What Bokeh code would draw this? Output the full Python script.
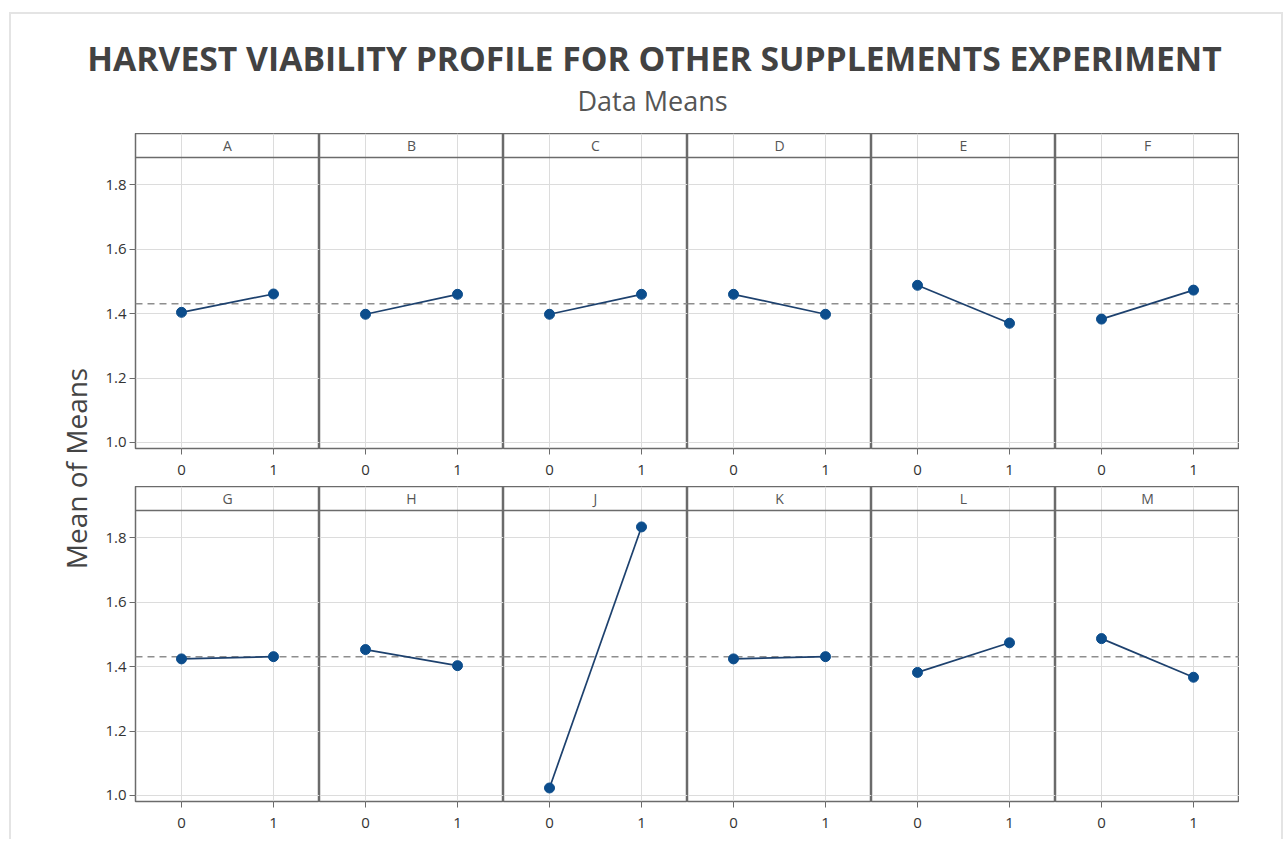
import math
from bokeh.plotting import figure
from bokeh.models import Range1d, Span, Label, FixedTicker, PrintfTickFormatter
from bokeh.layouts import row, column
from bokeh.embed import file_html
from bokeh.resources import INLINE

# ---- data ----
factors = ["A", "B", "C", "D", "E", "F", "G", "H", "J", "K", "L", "M"]
levels = [0, 1]
means_level0 = [1.404, 1.398, 1.398, 1.460, 1.488, 1.383, 1.424, 1.453, 1.023, 1.424, 1.382, 1.487]
means_level1 = [1.461, 1.460, 1.460, 1.398, 1.370, 1.473, 1.431, 1.403, 1.834, 1.431, 1.474, 1.367]
grand_mean = 1.431
y_ticks = [1.0, 1.2, 1.4, 1.6, 1.8]

title_text = "HARVEST VIABILITY PROFILE FOR OTHER SUPPLEMENTS EXPERIMENT"
subtitle_text = "Data Means"
ylabel_text = "Mean of Means"

# ---- styling / layout ----
FONT = "Open Sans"
FRAME_W = 184
FRAME_H = 315
HEADER_PX = 24
BOTTOM_PX = 38
Y0 = 0.981
DATA_TOP = 1.885
PX_PER_UNIT = (FRAME_H - HEADER_PX) / (DATA_TOP - Y0)
Y1 = Y0 + FRAME_H / PX_PER_UNIT
BORDER_COL = "#6b6b6b"
GRID_COL = "#dcdcdc"
POINT_COL = "#0c4d8c"
LINE_COL = "#1d416e"


def panel(idx, first):
    p = figure(frame_width=FRAME_W, frame_height=FRAME_H,
               x_range=Range1d(-0.5, 1.5), y_range=Range1d(Y0, Y1),
               output_backend="svg", toolbar_location=None,
               min_border_left=35 if first else 0, min_border_right=0,
               min_border_top=0, min_border_bottom=BOTTOM_PX,
               y_axis_location="left" if first else None)
    p.outline_line_color = BORDER_COL
    p.outline_line_width = 1.5
    p.background_fill_color = "white"
    p.border_fill_color = "white"

    p.xgrid.ticker = FixedTicker(ticks=levels)
    p.ygrid.ticker = FixedTicker(ticks=y_ticks)
    p.xgrid.bounds = (Y0, DATA_TOP)
    p.xgrid.grid_line_color = GRID_COL
    p.ygrid.grid_line_color = GRID_COL
    p.xgrid.grid_line_width = 1
    p.ygrid.grid_line_width = 1

    xa = p.xaxis[0]
    xa.ticker = FixedTicker(ticks=levels)
    xa.axis_line_color = None
    xa.major_tick_line_color = BORDER_COL
    xa.major_tick_out = 6
    xa.major_tick_in = 0
    xa.minor_tick_line_color = None
    xa.major_label_text_font = FONT
    xa.major_label_text_font_size = "15px"
    xa.major_label_text_color = "#333333"
    xa.major_label_standoff = 10

    if first:
        ya = p.yaxis[0]
        ya.ticker = FixedTicker(ticks=y_ticks)
        ya.formatter = PrintfTickFormatter(format="%.1f")
        ya.axis_line_color = None
        ya.major_tick_line_color = BORDER_COL
        ya.major_tick_out = 6
        ya.major_tick_in = 0
        ya.minor_tick_line_color = None
        ya.major_label_text_font = FONT
        ya.major_label_text_font_size = "15px"
        ya.major_label_text_color = "#333333"
        ya.major_label_standoff = 3

    # grand mean reference line
    p.add_layout(Span(location=grand_mean, dimension="width", line_color="#8e8e8e",
                      line_dash="7 5", line_width=1.5, level="underlay"))

    # data
    ys = [means_level0[idx], means_level1[idx]]
    p.line(x=levels, y=ys, line_color=LINE_COL, line_width=1.7)
    p.scatter(x=levels, y=ys, size=10, fill_color=POINT_COL, line_color=POINT_COL)

    # header strip
    p.add_layout(Span(location=DATA_TOP, dimension="width", line_color=BORDER_COL,
                      line_width=1.5))
    p.add_layout(Label(x=0.5, y=(DATA_TOP + Y1) / 2, text=factors[idx],
                       text_align="center", text_baseline="middle",
                       text_font=FONT, text_font_size="14px", text_color="#555555"))
    return p


rows = []
for r in range(2):
    figs = [panel(r * 6 + c, c == 0) for c in range(6)]
    rows.append(row(*figs, spacing=0))

grid_h = 2 * (FRAME_H + BOTTOM_PX)

# y-axis label figure
LW = 89
lab = figure(frame_width=LW, frame_height=grid_h, x_range=Range1d(0, LW),
             y_range=Range1d(0, grid_h), output_backend="svg", toolbar_location=None,
             min_border=0, x_axis_location=None, y_axis_location=None)
lab.outline_line_color = None
lab.xgrid.visible = False
lab.ygrid.visible = False
lab.add_layout(Label(x=64, y=grid_h - 335, text=ylabel_text, angle=math.pi / 2,
                     text_align="center", text_baseline="middle",
                     text_font=FONT, text_font_size="28px", text_color="#444444"))

# title figure
TW, TH = 1270, 119
tfig = figure(frame_width=TW, frame_height=TH, x_range=Range1d(0, TW),
              y_range=Range1d(0, TH), output_backend="svg", toolbar_location=None,
              min_border=0, x_axis_location=None, y_axis_location=None)
tfig.outline_line_color = None
tfig.xgrid.visible = False
tfig.ygrid.visible = False
tfig.add_layout(Label(x=643, y=TH - 43, text=title_text, text_align="center",
                      text_baseline="middle", text_font=FONT, text_font_size="33.7px",
                      text_font_style="bold", text_color="#424242"))
tfig.add_layout(Label(x=641, y=TH - 86, text=subtitle_text, text_align="center",
                      text_baseline="middle", text_font=FONT, text_font_size="27px",
                      text_color="#555555"))

body = row(lab, column(*rows, spacing=0), spacing=0)
page = column(tfig, body, spacing=0, margin=(12, 0, 0, 9),
              styles={"border-left": "2px solid #e4e4e4",
                      "border-top": "2px solid #e4e4e4",
                      "border-right": "2px solid #e4e4e4"})

open("out.html", "w").write(file_html(page, INLINE))
